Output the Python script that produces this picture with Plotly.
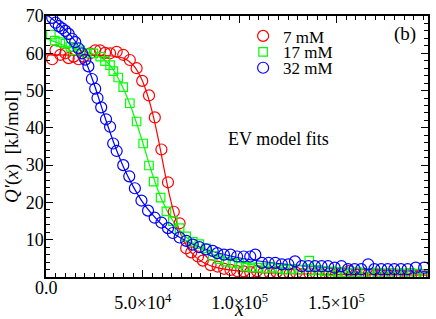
import plotly.graph_objects as go

# ---- data ----
x_7 = [3200, 4900, 7400, 10000, 11700, 14300, 16800, 19400, 22800, 25400, 27900, 30500,
       33100, 36500, 39900, 43300, 46800, 49700, 53200, 56200, 59600, 63000, 66000, 69000,
       72400, 75000, 78500, 81000, 85000, 88600, 92000, 95300, 98700, 102100, 105500, 108900,
       112300, 115700, 119100, 122500, 125900, 129300, 132700, 136100, 139500, 142900, 146300,
       149700, 153100, 156500, 159900, 163300, 166700, 170100, 173500, 176900, 180300, 183700,
       187100, 190500, 193900]
y_7 = [58.4, 60.8, 59.6, 60.0, 58.7, 59.1, 58.4, 59.1, 60.0, 60.8, 60.8, 60.1,
       60.0, 60.4, 59.6, 58.2, 56.0, 52.6, 48.7, 42.8, 34.2, 25.4, 17.5, 14.4,
       7.7, 6.6, 5.5, 4.4, 3.2, 2.8, 2.2, 1.9, 1.6, 1.5, 1.3, 1.6,
       1.2, 1.0, 1.3, 1.0, 0.9, 1.1, 0.8, 1.0, 0.8, 0.7, 0.9,
       0.6, 0.8, 1.6, 0.7, 0.6, 0.8, 0.5, 0.7, 0.6, 0.5, 0.7,
       0.5, 0.4, 0.6]

x_17 = [2500, 4500, 7400, 10000, 12600, 14300, 17700, 21100, 24500, 28000, 30500, 33100,
        34800, 37300, 39900, 43300, 46800, 50200, 53200, 55600, 59200, 62200, 65500, 69000,
        72400, 75800, 79200, 82700, 86100, 89500, 92900, 96300, 99700, 103100, 106500, 109900,
        113300, 116700, 120100, 123500, 126900, 130300, 136000, 137100, 140500, 143900, 147300,
        150700, 154100, 157500, 160900, 164300, 167700, 171100, 174500, 177900, 181300, 184700,
        188100, 191500, 194900]
y_17 = [65.0, 63.4, 63.0, 62.6, 61.7, 60.8, 60.8, 60.0, 60.0, 59.1, 57.9, 56.8,
        55.2, 53.5, 50.9, 46.6, 41.7, 35.8, 29.9, 25.6, 21.3, 17.6, 15.0, 13.1,
        10.9, 9.4, 8.8, 7.7, 5.7, 4.8, 4.1, 3.8, 3.6, 2.8, 2.6, 2.5,
        2.4, 2.5, 2.2, 2.0, 2.1, 2.0, 4.4, 1.8, 1.9, 1.6, 1.5,
        1.4, 1.3, 1.2, 1.3, 1.1, 1.0, 1.2, 1.0, 1.1, 1.0, 0.9,
        1.1, 0.9, 0.8]

x_32 = [3200, 4900, 6600, 8300, 10000, 11700, 13400, 15100, 16800, 18600, 20300, 21900,
        23700, 25400, 26600, 28500, 31000, 33100, 34700, 36500, 39900, 43000, 45900, 49300,
        52700, 56150, 59600, 63000, 65500, 69000, 72400, 75800, 79200, 82700, 86100, 88500,
        91900, 95300, 98700, 102100, 105500, 108100, 111500, 115000, 118400, 121800, 125200,
        128600, 132000, 135500, 138900, 142300, 145700, 149100, 152600, 156000, 159400, 162800,
        166400, 169600, 173100, 176500, 179900, 183300, 186800, 191000, 195300]
y_32 = [69.5, 68.2, 67.3, 66.7, 66.0, 65.2, 63.9, 63.0, 61.3, 60.0, 58.3, 56.5,
        53.1, 50.5, 48.0, 45.5, 42.3, 40.3, 35.8, 33.8, 30.0, 27.0, 23.8, 20.5,
        17.8, 15.9, 14.6, 13.1, 11.8, 10.6, 9.7, 8.7, 8.0, 7.4, 7.0, 6.4,
        6.0, 6.0, 5.5, 5.5, 5.5, 6.0, 3.8, 3.8, 3.8, 3.4, 3.4,
        4.2, 2.9, 2.9, 2.9, 2.9, 2.9, 2.5, 2.9, 2.1, 2.1, 2.1,
        3.4, 2.1, 2.1, 2.1, 2.1, 2.1, 2.1, 2.5, 2.5]

# EV model fit curves
fx_7 = [0, 20000, 30000, 35000, 40000, 43000, 46000, 49000, 52000, 55000, 58000, 61000,
        64000, 67000, 70000, 73000, 76000, 80000, 85000, 90000, 100000, 120000, 150000, 197000]
fy_7 = [59.6, 59.5, 59.4, 59.2, 58.7, 57.8, 56.2, 53.5, 49.5, 44.0, 37.0, 29.0,
        21.5, 15.5, 11.0, 8.0, 6.0, 4.3, 3.0, 2.3, 1.6, 1.0, 0.7, 0.5]
fx_17 = [0, 5000, 10000, 15000, 20000, 25000, 30000, 33000, 36000, 40000, 45000, 50000,
         55000, 60000, 65000, 70000, 75000, 80000, 90000, 100000, 110000, 120000, 130000,
         140000, 150000, 160000, 170000, 180000, 197000]
fy_17 = [64.0, 63.0, 62.0, 61.2, 60.5, 59.7, 58.3, 56.8, 54.5, 50.5, 44.0, 36.0,
         27.5, 20.5, 15.5, 12.0, 9.5, 7.7, 5.3, 3.9, 3.0, 2.4, 2.0,
         1.7, 1.4, 1.2, 1.1, 1.0, 0.8]
fx_32 = [0, 5000, 10000, 15000, 20000, 25000, 30000, 35000, 40000, 45000, 50000, 55000,
         60000, 65000, 70000, 75000, 80000, 90000, 100000, 110000, 120000, 130000, 140000,
         150000, 160000, 170000, 180000, 190000, 197000]
fy_32 = [70.5, 68.5, 66.3, 63.3, 58.5, 51.5, 43.5, 36.0, 29.5, 24.3, 20.0, 16.7,
         14.0, 12.0, 10.3, 9.0, 7.9, 6.3, 5.1, 4.3, 3.6, 3.1, 2.7,
         2.4, 2.1, 1.9, 1.7, 1.6, 1.5]

labels = ["7 mM", "17 mM", "32 mM"]
x_tickvals = [50000, 100000, 150000]
x_ticktext = ["5.0×10<sup>4</sup>", "1.0×10<sup>5</sup>", "1.5×10<sup>5</sup>"]
x0_tickval = 0
x0_ticktext = "0.0"
y_tickvals = [10, 20, 30, 40, 50, 60, 70]

RED, GREEN, BLUE = "#ff0000", "#00ff00", "#0000ff"
FONT = "Liberation Serif"
X_RANGE = [0, 197300]

fig = go.Figure()
for fx, fy, c in [(fx_7, fy_7, RED), (fx_17, fy_17, GREEN), (fx_32, fy_32, BLUE)]:
    fig.add_trace(go.Scatter(x=fx, y=fy, mode="lines", showlegend=False,
                             line=dict(color=c, width=1.2, shape="spline", smoothing=0.8),
                             hoverinfo="skip"))

series = [(x_7, y_7, RED, "circle-open", 11, "legend"),
          (x_17, y_17, GREEN, "square-open", 8.5, "legend2"),
          (x_32, y_32, BLUE, "circle-open", 11, "legend3")]
for (xs, ys, c, sym, sz, lg), name in zip(series, labels):
    fig.add_trace(go.Scatter(x=xs, y=ys, mode="markers", name=name, legend=lg,
                             marker=dict(symbol=sym, size=sz, color=c,
                                         line=dict(color=c, width=1.2))))

tickfont = dict(family=FONT, size=18, color="black")
axis_common = dict(showline=True, linecolor="black", linewidth=1.5, mirror="allticks",
                   ticks="inside", ticklen=7, tickwidth=1, tickcolor="black",
                   showgrid=False, zeroline=False, tickfont=tickfont,
                   ticklabeloverflow="allow")

fig.update_layout(
    xaxis=dict(range=X_RANGE, tickvals=x_tickvals, ticktext=x_ticktext, ticklabelstandoff=9,
               minor=dict(dtick=5000, ticks="inside", ticklen=4, tickcolor="black", showgrid=False),
               **axis_common),
    yaxis=dict(range=[0, 70], tickvals=y_tickvals, ticklabelstandoff=-3,
               minor=dict(dtick=2, ticks="inside", ticklen=4, tickcolor="black", showgrid=False),
               title=dict(text="<i>Q'</i>(<i>x</i>)  [kJ/mol]",
                          font=dict(family=FONT, size=19, color="black"), standoff=2),
               **axis_common),
)

# "0.0" tick label sits higher than the ×10^n labels in the reference
fig.add_annotation(x=x0_tickval, xref="x", y=-0.044, yref="paper", text=x0_ticktext,
                   showarrow=False, xanchor="center", yanchor="middle", font=tickfont)
# x-axis title
fig.add_annotation(x=0.505, xref="paper", y=-0.124, yref="paper", text="<i>x</i>",
                   showarrow=False, xanchor="center", yanchor="middle",
                   font=dict(family=FONT, size=20, color="black"))
fig.add_annotation(x=0.940, y=0.931, xref="paper", yref="paper", text="(b)",
                   showarrow=False, xanchor="center", yanchor="middle",
                   font=dict(family=FONT, size=19, color="black"))
fig.add_annotation(x=0.608, y=0.53, xref="paper", yref="paper", text="EV model fits",
                   showarrow=False, xanchor="center", yanchor="middle",
                   font=dict(family=FONT, size=18, color="black"))

leg_common = dict(x=0.516, xanchor="left", yanchor="middle", bgcolor="rgba(0,0,0,0)",
                  itemwidth=30, font=dict(family=FONT, size=17, color="black"))
fig.update_layout(width=436, height=319, margin=dict(l=46, r=6, t=8, b=41),
                  plot_bgcolor="white", paper_bgcolor="white",
                  legend=dict(y=0.922, **leg_common),
                  legend2=dict(y=0.861, **leg_common),
                  legend3=dict(y=0.800, **leg_common))

fig.write_html("out.html", post_script="document.body.style.margin='0';",
               config={"displayModeBar": False})
